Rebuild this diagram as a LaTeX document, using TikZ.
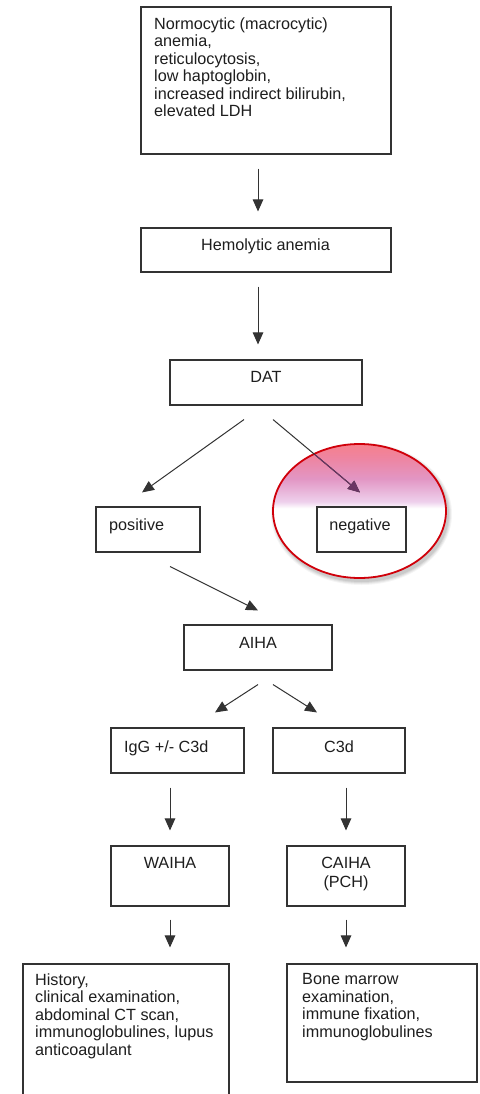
\documentclass[tikz,border=0pt]{standalone}
\usepackage{fontspec}
\setmainfont{Liberation Sans}
\usetikzlibrary{arrows.meta,calc,shapes.geometric}
\definecolor{ln}{HTML}{333333}
\definecolor{tx}{HTML}{1E1E1E}
\definecolor{ered}{HTML}{D0000A}
\definecolor{apurple}{HTML}{6A3563}
\definecolor{sA}{RGB}{238,208,236}
\definecolor{sB}{RGB}{226,150,196}
\definecolor{sC}{RGB}{238,132,160}
\definecolor{sD}{RGB}{246,128,140}
\pgfdeclareverticalshading{pinkfade}{100bp}{color(0bp)=(white); color(51bp)=(white); color(53.5bp)=(sA); color(62bp)=(sB); color(70bp)=(sC); color(75bp)=(sD); color(100bp)=(sD)}
\tikzset{
  box/.style={draw=ln, line width=1.1pt, rectangle, inner sep=0pt},
  txt/.style={text=tx, inner sep=0pt, font=\fontsize{16.2}{17.5}\selectfont},
  arr/.style={draw=ln, line width=1pt, -{Triangle[length=12pt,width=10.5pt]}},
}
\begin{document}
\begin{tikzpicture}[x=1pt,y=-1pt]
\fill[white] (0,0) rectangle (479,1094);
\clip (0,0) rectangle (479,1094);

% boxes
\node[box, minimum width=250pt, minimum height=147pt] (b1) at (266,80.5) {};
\node[box, minimum width=250pt, minimum height=44pt] (b2) at (266,250) {};
\node[box, minimum width=192pt, minimum height=45pt] (dat) at (266,382.5) {};
\node[box, minimum width=104pt, minimum height=45pt] (pos) at (148,529.5) {};

% highlight ellipse with soft shadow
\coordinate (hc) at (359.5,511);
\foreach \r/\o in {4/0.04,3/0.05,2/0.06,1/0.07}{
  \fill[black, opacity=\o] ($(hc)+(2,3)$) ellipse [x radius={86.5pt+\r pt}, y radius={67pt+\r pt}];
}
\node[ellipse, draw=ered, line width=1.8pt, shading=pinkfade, minimum width=173pt, minimum height=134pt, inner sep=0pt] (hl) at (hc) {};

\node[box, minimum width=89pt, minimum height=45pt] (neg) at (361.5,529.5) {};
\node[box, minimum width=148pt, minimum height=45pt] (aiha) at (258,647.5) {};
\node[box, minimum width=133pt, minimum height=45pt] (igg) at (177.5,750.5) {};
\node[box, minimum width=132pt, minimum height=45pt] (c3d) at (339,750.5) {};
\node[box, minimum width=118pt, minimum height=60pt] (waiha) at (170,876) {};
\node[box, minimum width=118pt, minimum height=60pt] (caiha) at (346,876) {};
\node[box, minimum width=206pt, minimum height=146pt] (bl) at (126,1037) {};
\node[box, minimum width=190pt, minimum height=118pt] (br) at (382,1023) {};

% texts
\node[txt, anchor=north west, align=left] (t1) at (154,17.5) {Normocytic (macrocytic)\\anemia,\\reticulocytosis,\\low haptoglobin,\\increased indirect bilirubin,\\elevated LDH};
\node[txt, anchor=base] (t2) at (265.5,250) {Hemolytic anemia};
\node[txt, anchor=base] (t3) at (266,382.7) {DAT};
\node[txt, anchor=base west] (t4) at (109,530) {positive};
\node[txt, anchor=base] (t5) at (360,530) {negative};
\node[txt, anchor=base] (t6) at (258,648) {AIHA};
\node[txt, anchor=base west] (t7) at (124,752) {IgG +/- C3d};
\node[txt, anchor=base] (t8) at (339,752) {C3d};
\node[txt, anchor=base] (t9) at (170,868) {WAIHA};
\node[txt, anchor=north, align=center, font=\fontsize{16.2}{19}\selectfont] (t10) at (346,856.5) {CAIHA\\(PCH)};
\node[txt, anchor=north west, align=left] (t11) at (35,973.3) {History,\\clinical examination,\\abdominal CT scan,\\immunoglobulines, lupus\\anticoagulant};
\node[txt, anchor=north west, align=left] (t12) at (302,973.3) {Bone marrow\\examination,\\immune fixation,\\immunoglobulines};

% connectors
\draw[arr] ($(b1.south)+(-8,14)$) -- ($(b2.north)+(-8,-16)$);
\draw[arr] ($(b2.south)+(-8,14)$) -- ($(dat.north)+(-8,-15)$);
\draw[arr] ($(dat.south)+(-22,14)$) -- ($(pos.north)+(-6,-14)$);
\draw[arr] ($(dat.south)+(7,14)$) -- ($(neg.north)+(-1.5,-14)$);
\begin{scope}
  \clip (hc) ellipse [x radius=85.6pt, y radius=66.1pt];
  \draw[arr, draw=apurple, fill=apurple] ($(dat.south)+(7,14)$) -- ($(neg.north)+(-1.5,-14)$);
\end{scope}
\draw[arr] ($(pos.south)+(22,14)$) -- ($(aiha.north)+(0,-14)$);
\draw[arr] ($(aiha.south)+(0,14)$) -- ($(igg.north)+(37.5,-15)$);
\draw[arr] ($(aiha.south)+(15,14)$) -- ($(c3d.north)+(-22,-15)$);
\draw[arr] ($(igg.south)+(-7.5,14)$) -- ($(waiha.north)+(0,-15)$);
\draw[arr] ($(c3d.south)+(7,14)$) -- ($(caiha.north)+(0,-15)$);
\draw[arr] ($(waiha.south)+(0,13)$) -- ($(bl.north)+(44,-16)$);
\draw[arr] ($(caiha.south)+(0,13)$) -- ($(br.north)+(-36,-16)$);
\end{tikzpicture}
\end{document}
